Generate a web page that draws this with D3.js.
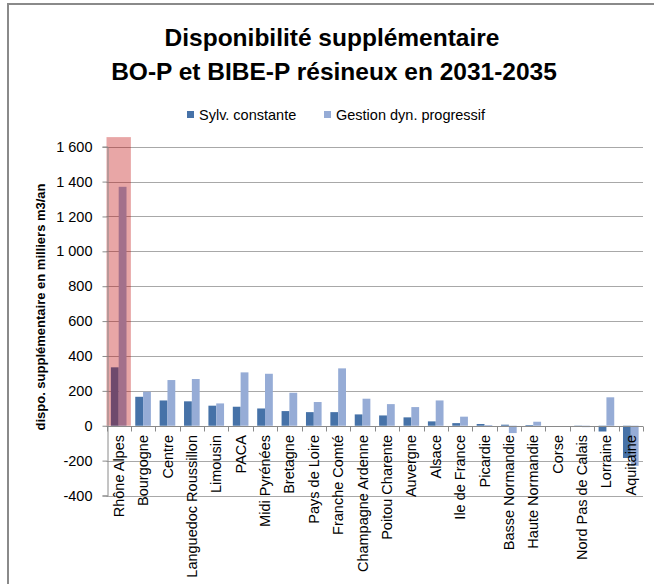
<!DOCTYPE html>
<html>
<head>
<meta charset="utf-8">
<script src="https://cdn.jsdelivr.net/npm/d3@7"></script>
<style>
body{margin:0;background:#fff;}
text{font-family:"Liberation Sans",Arial,sans-serif;fill:#000;}
</style>
</head>
<body>
<div id="chart"></div>
<script>
var regions = ["Rhône Alpes","Bourgogne","Centre","Languedoc Roussillon","Limousin","PACA",
    "Midi Pyrénées","Bretagne","Pays de Loire","Franche Comté","Champagne Ardenne",
    "Poitou Charente","Auvergne","Alsace","Ile de France","Picardie","Basse Normandie",
    "Haute Normandie","Corse","Nord Pas de Calais","Lorraine","Aquitaine"];
var sylvConstante = [335,166,145,140,115,109,99,84,78,78,65,59,48,25,15,10,6,4,0,-4,-33,-185];
var gestionDyn    = [1370,195,262,268,128,306,298,189,136,329,155,124,107,145,52,4,-42,23,0,-8,163,-230];
var seriesNames = ["Sylv. constante","Gestion dyn. progressif"];
var yTicks = [-400,-200,0,200,400,600,800,1000,1200,1400,1600];
var highlighted = "Rhône Alpes";
var highlightTop = 1655;

var width = 654, height = 584;
var colors = ["#4672a8","#96acd6"];

var svg = d3.select("#chart").append("svg")
    .attr("width", width)
    .attr("height", height);

// chart border
svg.append("rect")
    .attr("x", 8).attr("y", 4)
    .attr("width", 700).attr("height", 650)
    .attr("fill", "none")
    .attr("stroke", "#8a8a8a")
    .attr("stroke-width", 2);

// title
svg.append("text")
    .attr("x", 332).attr("y", 46)
    .attr("text-anchor", "middle")
    .style("font-size", "24.5px").style("font-weight", "bold")
    .text("Disponibilité supplémentaire");
svg.append("text")
    .attr("x", 334).attr("y", 80)
    .attr("text-anchor", "middle")
    .style("font-size", "24.5px").style("font-weight", "bold")
    .text("BO-P et BIBE-P résineux en 2031-2035");

var x = d3.scaleBand().domain(regions).range([106.5, 643]);
var xs = d3.scaleBand().domain(seriesNames).range([0, x.bandwidth()]).paddingOuter(0.56);
var y = d3.scaleLinear().domain([-400, 1600]).range([495.5, 146.7]);

// gridlines
svg.append("g").selectAll("line")
    .data(yTicks.filter(function(d){ return d !== 0; }))
    .enter().append("line")
    .attr("x1", x.range()[0]).attr("x2", x.range()[1])
    .attr("y1", function(d){ return Math.round(y(d)) + 0.5; })
    .attr("y2", function(d){ return Math.round(y(d)) + 0.5; })
    .attr("stroke", "#a8a8a8");

// bars
var rows = regions.map(function(r, i){ return {region:r, values:[sylvConstante[i], gestionDyn[i]]}; });
var groups = svg.append("g").selectAll("g")
    .data(rows)
    .enter().append("g")
    .attr("transform", function(d){ return "translate(" + x(d.region) + ",0)"; });
groups.selectAll("rect")
    .data(function(d){ return d.values.map(function(v, k){ return {name:seriesNames[k], v:v, k:k}; }); })
    .enter().append("rect")
    .attr("x", function(d){ return xs(d.name); })
    .attr("width", xs.bandwidth())
    .attr("y", function(d){ return y(Math.max(0, d.v)); })
    .attr("height", function(d){ return Math.abs(y(d.v) - y(0)); })
    .attr("fill", function(d){ return colors[d.k]; });

// highlight
svg.append("rect")
    .attr("x", x(highlighted))
    .attr("width", x.bandwidth())
    .attr("y", y(highlightTop))
    .attr("height", y(0) - y(highlightTop))
    .attr("fill", "rgba(190,0,0,0.35)");

// y axis
var yAxis = svg.append("g")
    .attr("transform", "translate(" + (Math.round(x.range()[0]) + 0.5) + ",0)")
    .call(d3.axisLeft(y).tickValues(yTicks).tickSize(5).tickPadding(10)
        .tickFormat(function(d){ return d3.format(",")(d).replace(/,/g, " ").replace("\u2212", "-"); }));
yAxis.select(".domain").attr("stroke", "#8a8a8a");
yAxis.selectAll(".tick line").attr("stroke", "#8a8a8a");
yAxis.selectAll("text").style("font-size", "14.5px").style("font-family", "Liberation Sans, Arial, sans-serif").attr("fill", "#000");

// x axis at zero
var zeroY = Math.round(y(0)) + 0.5;
svg.append("line")
    .attr("x1", x.range()[0]).attr("x2", x.range()[1])
    .attr("y1", zeroY).attr("y2", zeroY)
    .attr("stroke", "#8a8a8a");
svg.append("g").selectAll("line")
    .data(regions.concat(["_end"]))
    .enter().append("line")
    .attr("x1", function(d, i){ return Math.round(x.range()[0] + i * x.step()) + 0.5; })
    .attr("x2", function(d, i){ return Math.round(x.range()[0] + i * x.step()) + 0.5; })
    .attr("y1", zeroY).attr("y2", zeroY + 5)
    .attr("stroke", "#8a8a8a");

svg.append("g").selectAll("text")
    .data(regions)
    .enter().append("text")
    .attr("transform", function(d){
        return "translate(" + (x(d) + x.bandwidth() / 2) + ",435) rotate(-90)";
    })
    .attr("text-anchor", "end")
    .attr("dy", "0.35em")
    .style("font-size", "14.5px")
    .text(function(d){ return d; });

// y axis title
svg.append("text")
    .attr("transform", "translate(40,307) rotate(-90)")
    .attr("text-anchor", "middle")
    .attr("dy", "0.35em")
    .style("font-size", "13px").style("font-weight", "bold")
    .text("dispo. supplémentaire en milliers m3/an");

// legend
var legend = svg.append("g").selectAll("g")
    .data(seriesNames)
    .enter().append("g")
    .attr("transform", function(d, i){ return "translate(" + [187, 324][i] + ",111)"; });
legend.append("rect")
    .attr("width", 7).attr("height", 7)
    .attr("fill", function(d, i){ return colors[i]; });
legend.append("text")
    .attr("x", 12).attr("y", 8.5)
    .style("font-size", "14.5px")
    .text(function(d){ return d; });
</script>
</body>
</html>
